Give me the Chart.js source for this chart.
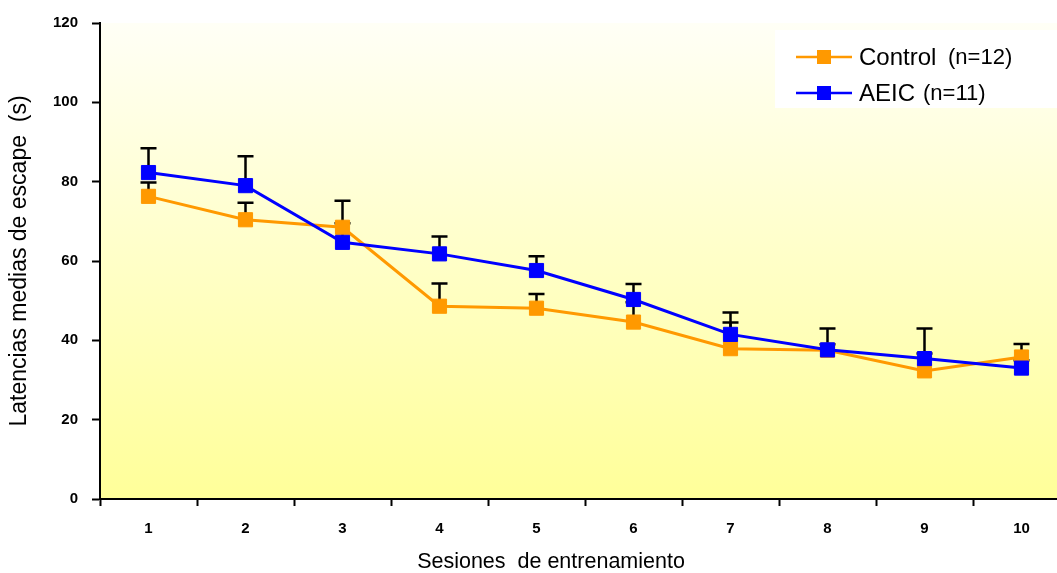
<!DOCTYPE html>
<html>
<head>
<meta charset="utf-8">
<script src="https://cdn.jsdelivr.net/npm/chart.js@4"></script>
<style>
  html, body { margin: 0; padding: 0; background: #fff; overflow: hidden; }
  #chart { display: block; }
</style>
</head>
<body>
<canvas id="chart" width="1081" height="573"></canvas>
<script>
// sessions 1..10
var sessions = ['1', '2', '3', '4', '5', '6', '7', '8', '9', '10'];

// Control (n=12): mean latency and upper error bar (SEM)
var controlMean = [76.3, 70.4, 68.5, 48.6, 48.1, 44.6, 37.9, 37.5, 32.3, 35.8];
var controlErr = [3.5, 4.3, 1.0, 5.7, 3.6, 5.0, 6.6, 1.5, 4.4, 3.3];

// AEIC (n=11)
var aeicMean = [82.3, 79.0, 64.7, 61.8, 57.6, 50.3, 41.5, 37.6, 35.4, 33.0];
var aeicErr = [6.1, 7.4, 10.5, 4.4, 3.6, 3.9, 5.5, 5.4, 7.6, 2.0];

var yTicks = [0, 20, 40, 60, 80, 100, 120];

var FONT = "'Liberation Sans', Arial, sans-serif";

// yellow gradient behind the plot
var bgPlugin = {
  id: 'bg',
  beforeDraw: function(chart) {
    var ctx = chart.ctx, a = chart.chartArea;
    ctx.save();
    ctx.fillStyle = '#ffffff';
    ctx.fillRect(0, 0, chart.width, chart.height);
    var g = ctx.createLinearGradient(0, a.top, 0, a.bottom);
    g.addColorStop(0, '#fffff6');
    g.addColorStop(1, '#ffff99');
    ctx.fillStyle = g;
    ctx.fillRect(a.left, a.top, a.right - a.left, a.bottom - a.top);
    ctx.restore();
  }
};

// upward error bars, drawn under the markers
var errPlugin = {
  id: 'errbars',
  beforeDatasetsDraw: function(chart) {
    var ctx = chart.ctx;
    var yScale = chart.scales.y;
    ctx.save();
    ctx.strokeStyle = '#000';
    ctx.lineWidth = 2.5;
    chart.data.datasets.forEach(function(ds, i) {
      var meta = chart.getDatasetMeta(i);
      meta.data.forEach(function(pt, j) {
        var yTop = yScale.getPixelForValue(ds.data[j] + ds.err[j]);
        ctx.beginPath();
        ctx.moveTo(pt.x, pt.y);
        ctx.lineTo(pt.x, yTop);
        ctx.moveTo(pt.x - 8, yTop);
        ctx.lineTo(pt.x + 8, yTop);
        ctx.stroke();
      });
    });
    ctx.restore();
  }
};

// legend box and x axis title
var extrasPlugin = {
  id: 'extras',
  afterDraw: function(chart) {
    var ctx = chart.ctx, a = chart.chartArea;
    ctx.save();
    ctx.fillStyle = '#ffffff';
    ctx.fillRect(775, 30, chart.width - 775, 78);

    var items = [
      { name: 'Control', n: '(n=12)', color: '#ff9900', y: 57, nx: 948 },
      { name: 'AEIC', n: '(n=11)', color: '#0000ff', y: 93, nx: 923 }
    ];
    items.forEach(function(it) {
      ctx.strokeStyle = it.color;
      ctx.lineWidth = 2.5;
      ctx.beginPath();
      ctx.moveTo(796, it.y);
      ctx.lineTo(852, it.y);
      ctx.stroke();
      ctx.fillStyle = it.color;
      ctx.fillRect(817, it.y - 7, 14, 14);
      ctx.fillStyle = '#000';
      ctx.textBaseline = 'middle';
      ctx.textAlign = 'left';
      ctx.font = '24px ' + FONT;
      ctx.fillText(it.name, 859, it.y + 1);
      ctx.font = '22px ' + FONT;
      ctx.fillText(it.n, it.nx, it.y + 1);
    });

    ctx.fillStyle = '#000';
    ctx.font = '21.5px ' + FONT;
    ctx.textAlign = 'center';
    ctx.textBaseline = 'middle';
    ctx.fillText('Sesiones  de entrenamiento', a.left + 451, 562);
    ctx.restore();
  }
};

new Chart(document.getElementById('chart'), {
  type: 'line',
  data: {
    labels: sessions,
    datasets: [{
      label: 'Control (n=12)',
      data: controlMean,
      err: controlErr,
      borderColor: '#ff9900',
      backgroundColor: '#ff9900',
      borderWidth: 3,
      pointStyle: 'rect',
      pointRadius: 10,
      pointBorderWidth: 1,
      order: 2
    }, {
      label: 'AEIC (n=11)',
      data: aeicMean,
      err: aeicErr,
      borderColor: '#0000ff',
      backgroundColor: '#0000ff',
      borderWidth: 3,
      pointStyle: 'rect',
      pointRadius: 10,
      pointBorderWidth: 1,
      order: 1
    }]
  },
  options: {
    responsive: false,
    animation: false,
    layout: { padding: { top: 15, left: 0, right: 0, bottom: 0 } },
    plugins: {
      legend: { display: false },
      tooltip: { enabled: false }
    },
    scales: {
      x: {
        offset: true,
        afterFit: function(s) { s.height = 74; },
        grid: {
          offset: true,
          drawOnChartArea: false,
          drawTicks: true,
          tickLength: 7,
          tickWidth: 2,
          tickColor: '#000'
        },
        border: { display: true, color: '#000', width: 2 },
        ticks: {
          color: '#000',
          padding: 14,
          maxRotation: 0,
          font: { family: FONT, size: 15, weight: 'bold' }
        }
      },
      y: {
        min: 0,
        max: 120,
        afterFit: function(s) { s.width = 100; },
        afterBuildTicks: function(s) {
          s.ticks = yTicks.map(function(v) { return { value: v }; });
        },
        grid: {
          drawOnChartArea: false,
          drawTicks: true,
          tickLength: 8,
          tickWidth: 2,
          tickColor: '#000'
        },
        border: { display: true, color: '#000', width: 2 },
        ticks: {
          color: '#000',
          padding: 14,
          font: { family: FONT, size: 15, weight: 'bold' }
        },
        title: {
          display: true,
          text: 'Latencias medias de escape  (s)',
          color: '#000',
          padding: { top: 8, bottom: 0 },
          font: { family: FONT, size: 23, lineHeight: 1 }
        }
      }
    }
  },
  plugins: [bgPlugin, errPlugin, extrasPlugin]
});
</script>
</body>
</html>
